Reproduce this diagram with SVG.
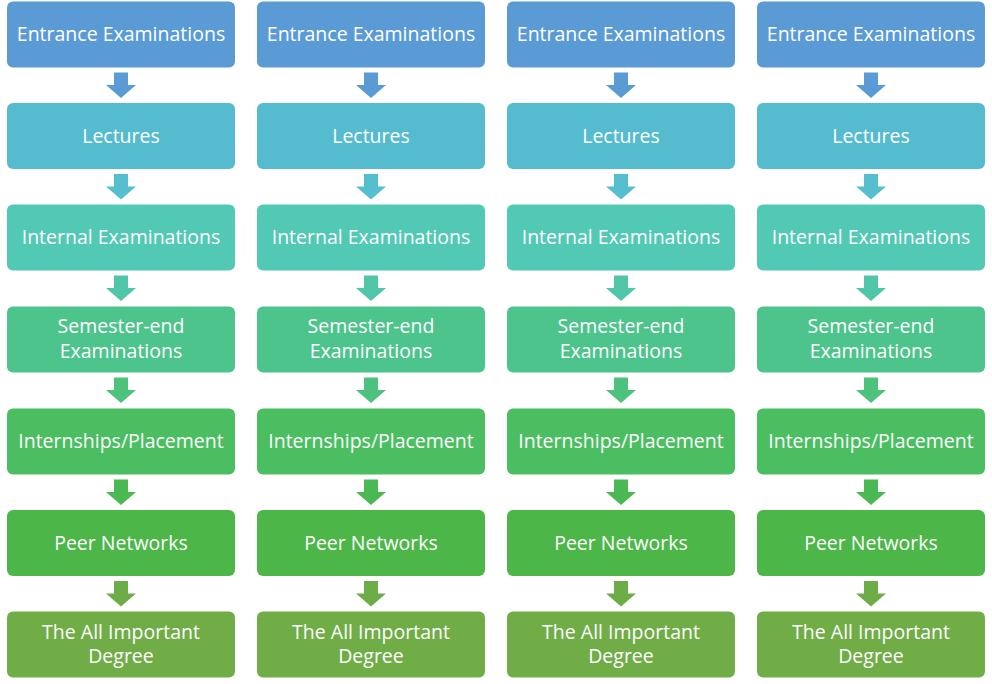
<svg xmlns="http://www.w3.org/2000/svg" xmlns:xlink="http://www.w3.org/1999/xlink" width="992" height="684" viewBox="0 0 992 684">
<defs>
<style>
text{font-family:"Open Sans","Noto Sans","Liberation Sans",sans-serif;font-size:19.5px;fill:#ffffff;text-anchor:middle}
.r1{fill:#5B9BD5}.r2{fill:#55BBCF}.r3{fill:#52C9B5}.r4{fill:#4DC48C}.r5{fill:#4ABE61}.r6{fill:#4CB648}.r7{fill:#70AD47}
.a1{fill:#5B9BD5}.a2{fill:#55BFD0}.a3{fill:#50C5A8}.a4{fill:#4CC27D}.a5{fill:#4AB954}.a6{fill:#6CAD47}
</style>
<path id="arr" d="M-7,0 H7 V12.5 H15 L0,25.5 L-15,12.5 H-7 Z"/>
<rect id="box" x="0" y="0" width="228" height="66" rx="6" ry="6"/>
</defs>
<rect width="992" height="684" fill="#ffffff"/>
<g id="connectors">
<g class="a1"><use xlink:href="#arr" x="121" y="72.5"/><use xlink:href="#arr" x="371" y="72.5"/><use xlink:href="#arr" x="621" y="72.5"/><use xlink:href="#arr" x="871" y="72.5"/></g>
<g class="a2"><use xlink:href="#arr" x="121" y="174"/><use xlink:href="#arr" x="371" y="174"/><use xlink:href="#arr" x="621" y="174"/><use xlink:href="#arr" x="871" y="174"/></g>
<g class="a3"><use xlink:href="#arr" x="121" y="275.5"/><use xlink:href="#arr" x="371" y="275.5"/><use xlink:href="#arr" x="621" y="275.5"/><use xlink:href="#arr" x="871" y="275.5"/></g>
<g class="a4"><use xlink:href="#arr" x="121" y="377.5"/><use xlink:href="#arr" x="371" y="377.5"/><use xlink:href="#arr" x="621" y="377.5"/><use xlink:href="#arr" x="871" y="377.5"/></g>
<g class="a5"><use xlink:href="#arr" x="121" y="479.5"/><use xlink:href="#arr" x="371" y="479.5"/><use xlink:href="#arr" x="621" y="479.5"/><use xlink:href="#arr" x="871" y="479.5"/></g>
<g class="a6"><use xlink:href="#arr" x="121" y="581"/><use xlink:href="#arr" x="371" y="581"/><use xlink:href="#arr" x="621" y="581"/><use xlink:href="#arr" x="871" y="581"/></g>
</g>
<!-- column 1 -->
<g id="c1-entrance"><use xlink:href="#box" class="r1" x="7" y="1.5"/><text x="121" y="41">Entrance Examinations</text></g>
<g id="c1-lectures"><use xlink:href="#box" class="r2" x="7" y="103"/><text x="121" y="142.5">Lectures</text></g>
<g id="c1-internal"><use xlink:href="#box" class="r3" x="7" y="204.5"/><text x="121" y="244">Internal Examinations</text></g>
<g id="c1-semester"><use xlink:href="#box" class="r4" x="7" y="306.5"/><text x="121" y="333">Semester-end</text><text x="121" y="357.5">Examinations</text></g>
<g id="c1-internships"><use xlink:href="#box" class="r5" x="7" y="408.5"/><text x="121" y="448">Internships/Placement</text></g>
<g id="c1-peer"><use xlink:href="#box" class="r6" x="7" y="510"/><text x="121" y="549.5">Peer Networks</text></g>
<g id="c1-degree"><use xlink:href="#box" class="r7" x="7" y="611.5"/><text x="121" y="638.5">The All Important</text><text x="121" y="663">Degree</text></g>
<!-- column 2 -->
<g id="c2-entrance"><use xlink:href="#box" class="r1" x="257" y="1.5"/><text x="371" y="41">Entrance Examinations</text></g>
<g id="c2-lectures"><use xlink:href="#box" class="r2" x="257" y="103"/><text x="371" y="142.5">Lectures</text></g>
<g id="c2-internal"><use xlink:href="#box" class="r3" x="257" y="204.5"/><text x="371" y="244">Internal Examinations</text></g>
<g id="c2-semester"><use xlink:href="#box" class="r4" x="257" y="306.5"/><text x="371" y="333">Semester-end</text><text x="371" y="357.5">Examinations</text></g>
<g id="c2-internships"><use xlink:href="#box" class="r5" x="257" y="408.5"/><text x="371" y="448">Internships/Placement</text></g>
<g id="c2-peer"><use xlink:href="#box" class="r6" x="257" y="510"/><text x="371" y="549.5">Peer Networks</text></g>
<g id="c2-degree"><use xlink:href="#box" class="r7" x="257" y="611.5"/><text x="371" y="638.5">The All Important</text><text x="371" y="663">Degree</text></g>
<!-- column 3 -->
<g id="c3-entrance"><use xlink:href="#box" class="r1" x="507" y="1.5"/><text x="621" y="41">Entrance Examinations</text></g>
<g id="c3-lectures"><use xlink:href="#box" class="r2" x="507" y="103"/><text x="621" y="142.5">Lectures</text></g>
<g id="c3-internal"><use xlink:href="#box" class="r3" x="507" y="204.5"/><text x="621" y="244">Internal Examinations</text></g>
<g id="c3-semester"><use xlink:href="#box" class="r4" x="507" y="306.5"/><text x="621" y="333">Semester-end</text><text x="621" y="357.5">Examinations</text></g>
<g id="c3-internships"><use xlink:href="#box" class="r5" x="507" y="408.5"/><text x="621" y="448">Internships/Placement</text></g>
<g id="c3-peer"><use xlink:href="#box" class="r6" x="507" y="510"/><text x="621" y="549.5">Peer Networks</text></g>
<g id="c3-degree"><use xlink:href="#box" class="r7" x="507" y="611.5"/><text x="621" y="638.5">The All Important</text><text x="621" y="663">Degree</text></g>
<!-- column 4 -->
<g id="c4-entrance"><use xlink:href="#box" class="r1" x="757" y="1.5"/><text x="871" y="41">Entrance Examinations</text></g>
<g id="c4-lectures"><use xlink:href="#box" class="r2" x="757" y="103"/><text x="871" y="142.5">Lectures</text></g>
<g id="c4-internal"><use xlink:href="#box" class="r3" x="757" y="204.5"/><text x="871" y="244">Internal Examinations</text></g>
<g id="c4-semester"><use xlink:href="#box" class="r4" x="757" y="306.5"/><text x="871" y="333">Semester-end</text><text x="871" y="357.5">Examinations</text></g>
<g id="c4-internships"><use xlink:href="#box" class="r5" x="757" y="408.5"/><text x="871" y="448">Internships/Placement</text></g>
<g id="c4-peer"><use xlink:href="#box" class="r6" x="757" y="510"/><text x="871" y="549.5">Peer Networks</text></g>
<g id="c4-degree"><use xlink:href="#box" class="r7" x="757" y="611.5"/><text x="871" y="638.5">The All Important</text><text x="871" y="663">Degree</text></g>
</svg>
